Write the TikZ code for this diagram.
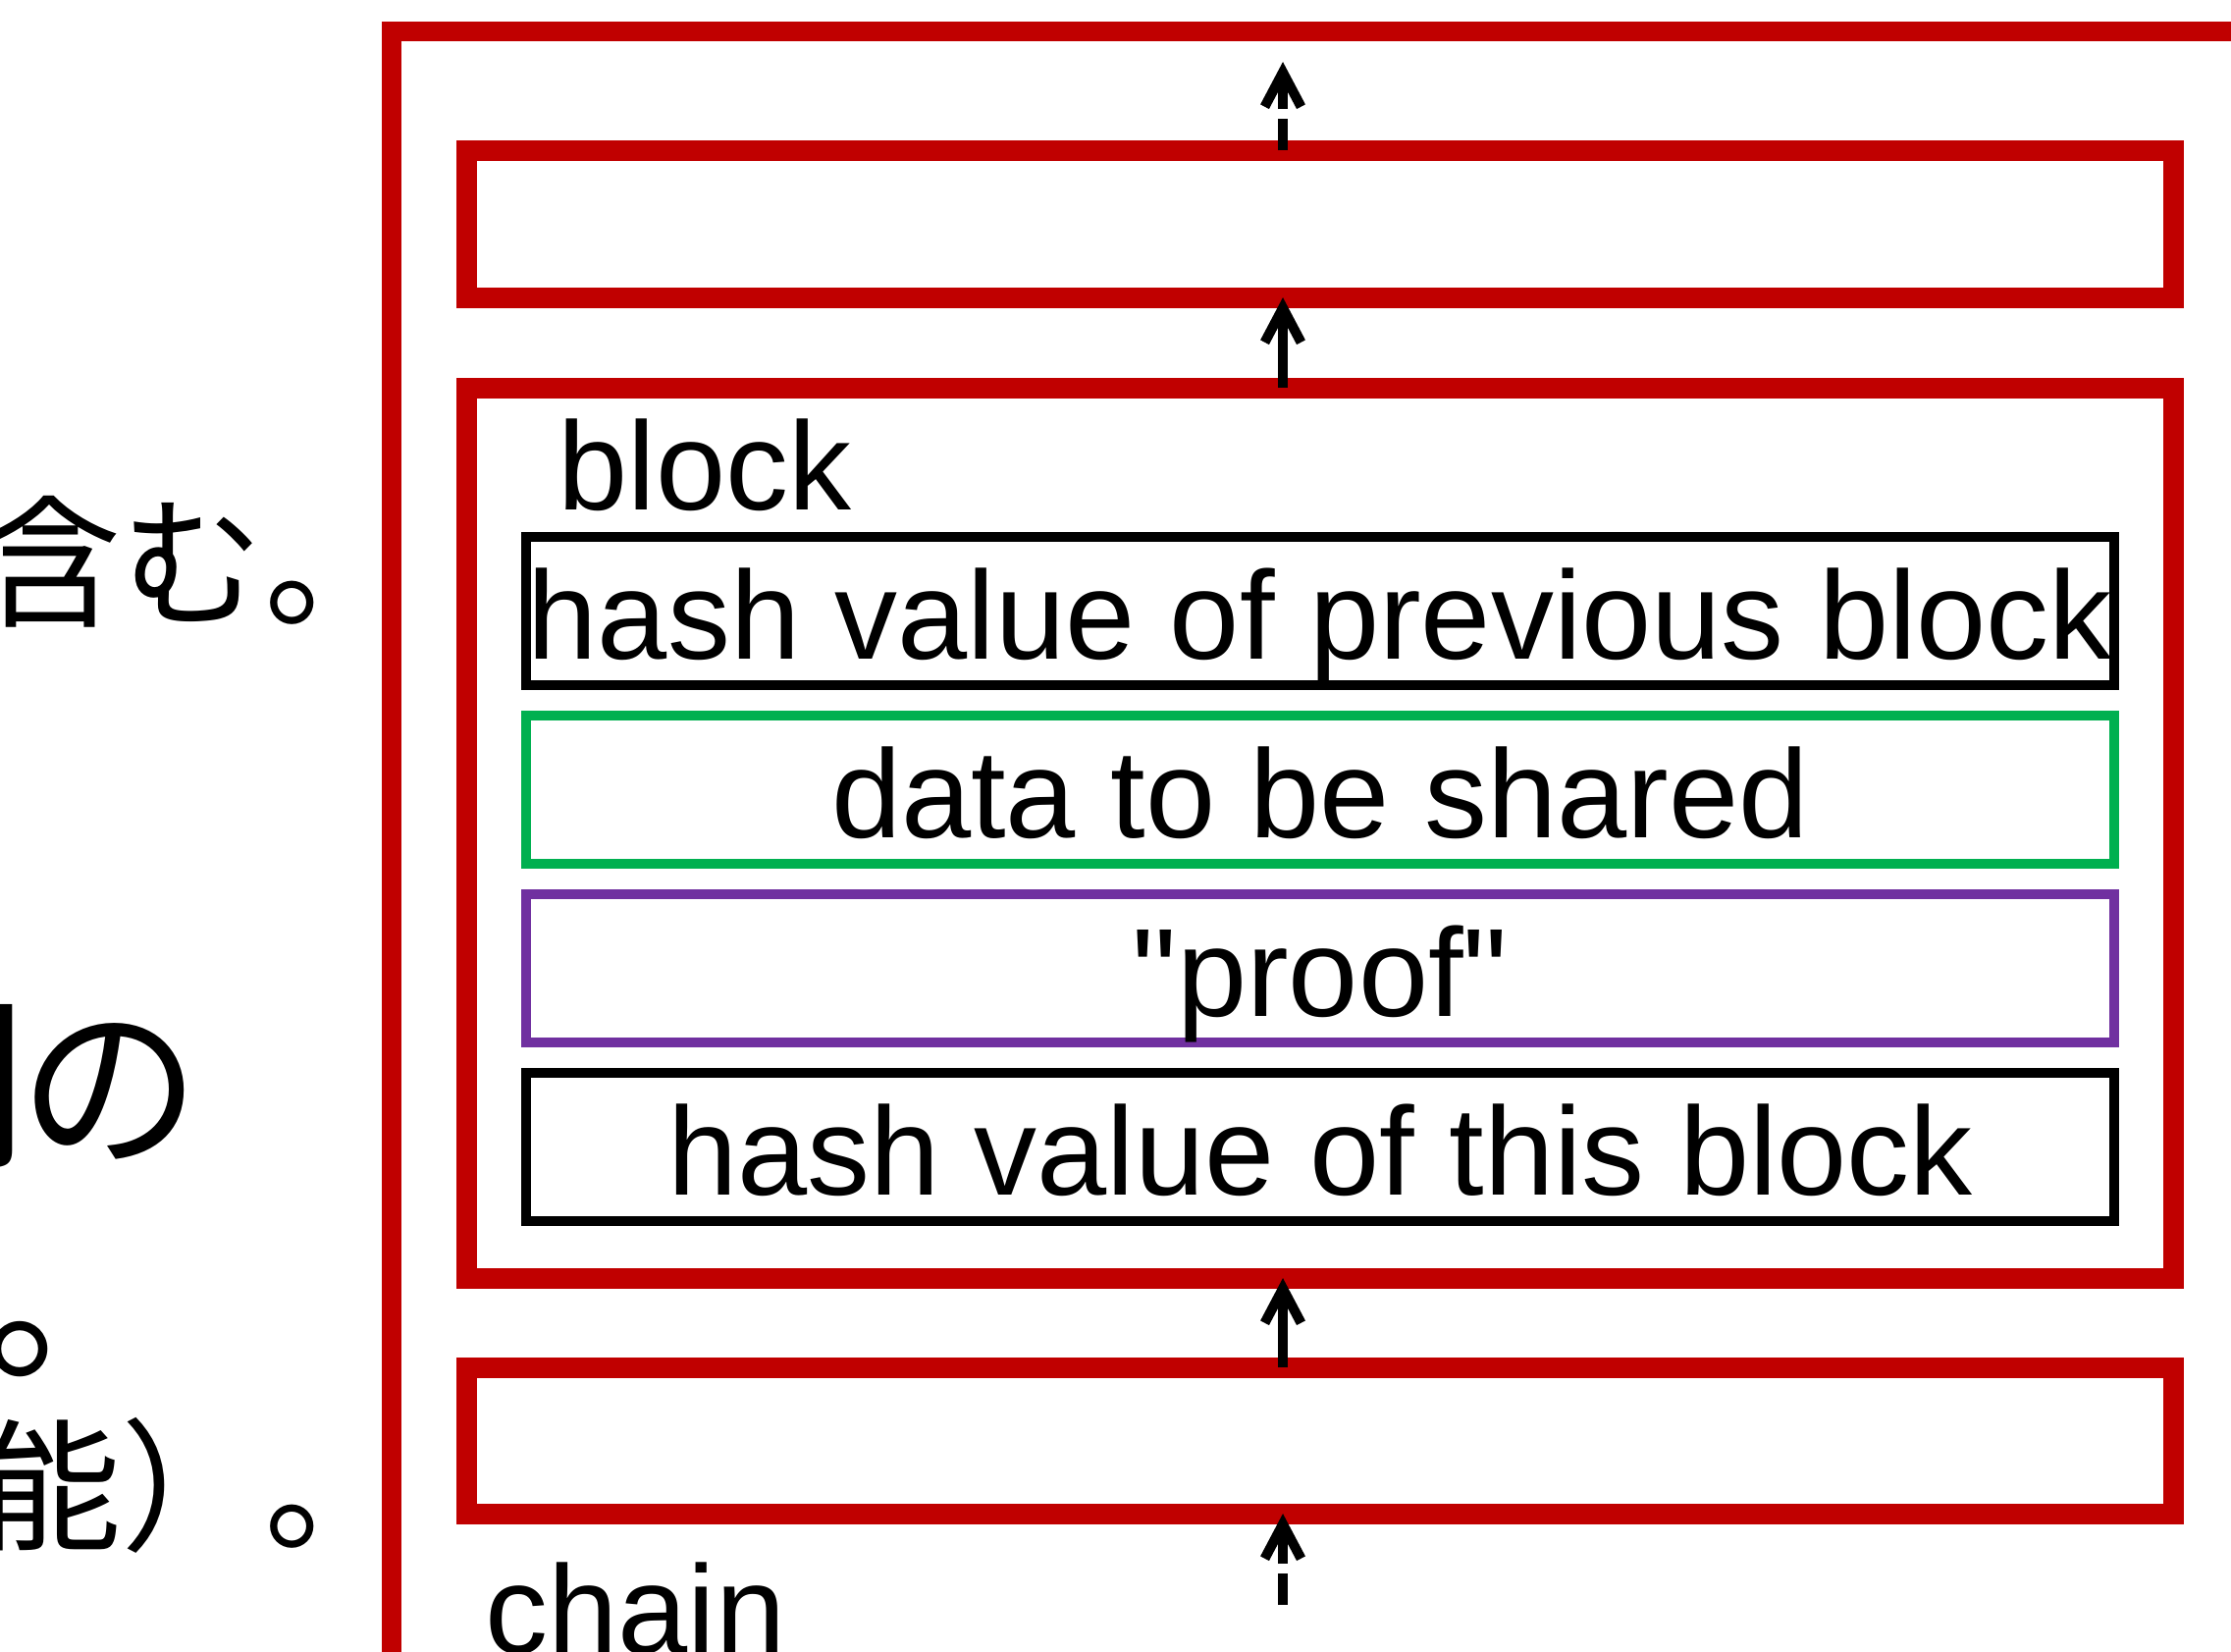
\documentclass[tikz,border=0pt]{standalone}
\usepackage{fontspec}
\setmainfont{Liberation Sans}
\newfontfamily\jpfont{Noto Sans CJK JP}
\usetikzlibrary{positioning,arrows.meta,calc}
\definecolor{chainred}{HTML}{C00000}
\definecolor{datagreen}{HTML}{00B050}
\definecolor{proofpurple}{HTML}{7030A0}

\begin{document}
\begin{tikzpicture}[
    redbox/.style={draw=chainred, line width=0.21cm, rectangle, minimum width=17.39cm, outer sep=0pt, inner sep=0pt},
    field/.style={draw, line width=0.1cm, rectangle, minimum width=16.18cm, minimum height=1.51cm, outer sep=0pt, inner sep=0pt, text height=0.97cm, text depth=0pt, font=\fontsize{36.4}{40}\selectfont},
    tag/.style={inner sep=0pt, anchor=base west, font=\fontsize{36.4}{40}\selectfont},
    jp/.style={inner sep=0pt, anchor=base east, font=\jpfont\fontsize{41.3}{45}\selectfont},
    jpbig/.style={jp, font=\jpfont\fontsize{52.7}{56}\selectfont},
    arr/.style={line width=0.1cm, -{Straight Barb[length=3.5mm,width=3.7mm]}},
    dasharr/.style={arr, dash pattern=on 3.2mm off 1mm on 20mm}
]
    \useasboundingbox (0,0) rectangle (22.73,-16.82);
    \clip (0,0) rectangle (22.73,-16.82);

    % Japanese text, cut off on the left
    \node[jp] (line1) at (4.15,-6.27) {含む。};
    \node[jpbig] (line2) at (2.05,-11.75) {列\kern-0.05em の};
    \node[jpbig] (line3) at (1.70,-13.91) {。};
    \node[jp] (line4) at (4.15,-15.68) {能）。};

    % Chain frame
    \node[redbox, line width=0.2cm, anchor=north west, minimum width=20cm, minimum height=18cm] (chain) at (3.99,-0.32) {};
    \node[tag] (chainlabel) at (4.94,-16.84) {chain};

    % Blocks
    \node[redbox, minimum height=1.5cm] (upper) at (13.445,-2.28) {};
    \node[redbox, minimum height=9.07cm] (block) at (13.445,-8.485) {};
    \node[redbox, minimum height=1.49cm] (lower) at (13.445,-14.675) {};
    \node[tag] (blocklabel) at (5.68,-5.19) {block};

    % Fields of the block
    \node[field] (prevhash) at (13.45,-6.225) {hash value of previous block};
    \node[field, draw=datagreen, below=0.31cm of prevhash] (data) {data to be shared};
    \node[field, draw=proofpurple, below=0.31cm of data] (proof) {\textquotedbl proof\textquotedbl};
    \node[field, below=0.31cm of proof] (thishash) {hash value of this block};

    % Links
    \coordinate (ax) at (13.07,0);
    \coordinate (toptip) at (13.07,-0.63);
    \coordinate (bottomtail) at (13.07,-16.35);
    \draw[dasharr] (upper.north -| ax) -- (toptip);
    \draw[arr] (block.north -| ax) -- (upper.south -| ax);
    \draw[arr] (lower.north -| ax) -- (block.south -| ax);
    \draw[dasharr] (bottomtail) -- (lower.south -| ax);
\end{tikzpicture}
\end{document}
